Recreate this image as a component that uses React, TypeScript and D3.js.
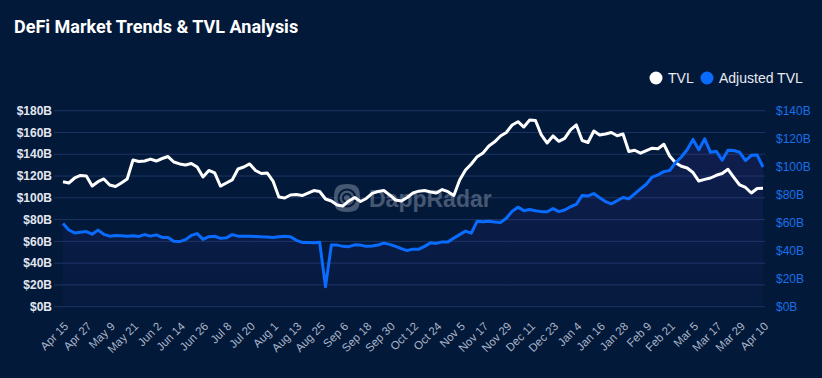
import React from 'react';
import * as d3 from 'd3';

// ---- data (3-day samples starting Apr 15 2024) ----
const startDate = new Date(2024, 3, 15);
const stepDays = 3;

const tvlValues = [
  114.8, 113.6, 118.2, 120.5, 120.0, 110.8, 114.8, 117.3, 111.8, 110.4,
  113.6, 117.3, 134.7, 133.3, 133.8, 135.6, 133.8, 136.1, 137.9, 132.9,
  131.1, 130.1, 131.5, 128.3, 119.1, 125.1, 122.8, 110.8, 113.6, 116.4,
  126.5, 128.3, 131.1, 125.1, 122.3, 122.8, 115.4, 100.7, 99.8, 102.6,
  103.0, 102.1, 104.4, 106.7, 105.8, 98.9, 97.1, 93.4, 92.5, 97.1,
  100.3, 96.6, 99.4, 104.1, 105.8, 106.7, 102.6, 98.0, 97.1, 100.3,
  104.4, 106.1, 106.7, 105.3, 104.4, 107.6, 105.6, 102.1, 116.4, 125.5,
  131.1, 137.8, 141.2, 147.6, 151.4, 156.8, 160.0, 166.9, 169.9, 165.0,
  171.5, 171.0, 157.7, 150.3, 156.8, 151.9, 154.5, 162.3, 166.9, 152.6,
  150.8, 161.4, 157.7, 158.6, 160.0, 157.0, 158.6, 142.5, 143.7, 141.0,
  143.4, 145.6, 145.1, 149.2, 138.4, 132.2, 129.0, 127.4, 123.2, 115.4,
  116.9, 118.2, 120.7, 122.3, 126.2, 118.7, 111.8, 109.5, 104.4, 108.6,
  108.7,
];

const adjustedValues = [
  59.4, 54.8, 52.7, 53.2, 53.7, 51.8, 54.7, 51.7, 50.4, 50.8,
  50.7, 50.4, 50.6, 50.2, 51.5, 50.4, 51.3, 49.5, 49.4, 46.7,
  46.5, 47.9, 50.9, 52.2, 48.1, 50.0, 50.3, 48.8, 49.2, 51.5,
  50.4, 50.4, 50.4, 50.2, 49.9, 49.7, 49.5, 50.0, 50.3, 50.0,
  47.4, 45.9, 45.8, 45.7, 46.0, 14.3, 44.0, 44.0, 43.1, 42.9,
  44.2, 44.0, 43.1, 43.4, 44.1, 45.4, 44.5, 43.1, 41.5, 40.1,
  41.1, 41.1, 43.1, 45.6, 45.2, 46.3, 46.3, 49.0, 51.5, 54.0,
  52.5, 61.1, 60.7, 61.1, 60.5, 60.2, 63.2, 68.2, 71.1, 68.6,
  69.4, 68.6, 67.9, 67.8, 70.1, 67.9, 69.1, 71.4, 73.1, 79.5,
  79.1, 80.8, 77.8, 75.1, 73.5, 75.7, 78.0, 77.1, 80.6, 84.2,
  87.5, 92.6, 94.2, 96.5, 97.3, 102.8, 106.9, 112.1, 119.5, 112.1,
  119.9, 110.3, 111.0, 104.6, 111.7, 111.6, 110.3, 104.4, 108.1, 108.3,
  99.8,
];

const leftTicks = [0, 20, 40, 60, 80, 100, 120, 140, 160, 180];
const rightTicks = [0, 20, 40, 60, 80, 100, 120, 140];
const labelEvery = 4; // every 12 days
const seriesNames = ['TVL', 'Adjusted TVL'];
const seriesColors = ['#ffffff', '#0a6cff'];
const titleText = 'DeFi Market Trends & TVL Analysis';

export default function App() {
  const W = 822;
  const H = 378;
  const left = 63;
  const right = 763;
  const top = 110.7;
  const bottom = 306.7;

  const dates = tvlValues.map((_, i) => d3.timeDay.offset(startDate, i * stepDays));
  const x = d3.scaleTime().domain([dates[0], dates[dates.length - 1]]).range([left, right]);
  const yL = d3.scaleLinear().domain([0, 180]).range([bottom, top]);
  const yR = d3.scaleLinear().domain([0, 140]).range([bottom, top]);
  const fmt = d3.timeFormat('%b %-d');

  const tvlLine = d3
    .line<number>()
    .x((_, i) => x(dates[i]))
    .y((d) => yL(d));
  const adjLine = d3
    .line<number>()
    .x((_, i) => x(dates[i]))
    .y((d) => yR(d));
  const adjArea = d3
    .area<number>()
    .x((_, i) => x(dates[i]))
    .y0(bottom)
    .y1((d) => yR(d));

  const axisFont = "'Liberation Sans', Arial, sans-serif";
  const labelDates = dates.filter((_, i) => i % labelEvery === 0);

  return (
    <svg
      width={W}
      height={H}
      style={{ position: 'absolute', left: 0, top: 0, display: 'block' }}
      fontFamily={axisFont}
    >
      <defs>
        <linearGradient id="adjFill" gradientUnits="userSpaceOnUse" x1="0" y1={top} x2="0" y2={bottom}>
          <stop offset="0%" stopColor="#6a3cd0" stopOpacity={0.15} />
          <stop offset="100%" stopColor="#4a3cc0" stopOpacity={0.04} />
        </linearGradient>
      </defs>
      <rect x={0} y={0} width={W} height={H} fill="#03193a" />

      {/* title */}
      <text x={14} y={33} fill="#ffffff" fontFamily="Roboto, 'Liberation Sans', Arial, sans-serif" fontWeight={700} fontSize={18}>
        {titleText}
      </text>

      {/* legend */}
      <g fontSize={14} fill="#e8ecf2">
        <circle cx={656} cy={78} r={6.5} fill={seriesColors[0]} />
        <text x={668} y={78} dy="0.35em">{seriesNames[0]}</text>
        <circle cx={707} cy={78} r={6.5} fill={seriesColors[1]} />
        <text x={719} y={78} dy="0.35em">{seriesNames[1]}</text>
      </g>

      {/* gridlines */}
      {leftTicks.map((t) => (
        <line key={'g' + t} x1={54} x2={765} y1={yL(t)} y2={yL(t)} stroke="#1d3563" strokeWidth={1} />
      ))}

      {/* left axis labels */}
      {leftTicks.map((t) => (
        <text key={'l' + t} x={52} y={yL(t)} dy="0.35em" textAnchor="end" fill="#e2e7ef" fontSize={12} fontWeight={700}>
          {'$' + t + 'B'}
        </text>
      ))}

      {/* right axis labels */}
      {rightTicks.map((t) => (
        <text key={'r' + t} x={776} y={yR(t)} dy="0.35em" textAnchor="start" fill="#1a6fe6" fontSize={12}>
          {'$' + t + 'B'}
        </text>
      ))}

      {/* x labels */}
      {labelDates.map((d, i) => (
        <text
          key={'x' + i}
          transform={`translate(${x(d) + 6},${327}) rotate(-45)`}
          textAnchor="end"
          fill="#a9b5c8"
          fontSize={11.5}
        >
          {fmt(d)}
        </text>
      ))}

      {/* watermark */}
      <g opacity={0.55}>
        <path
          d="M347,184 C357,184 360,187 360,198 C360,209 357,212 347,212 C337,212 334,209 334,198 C334,187 337,184 347,184 Z"
          fill="#7d8aa0"
        />
        <circle cx={347} cy={198} r={8.5} fill="none" stroke="#03193a" strokeWidth={2} />
        <circle cx={347} cy={198} r={4} fill="none" stroke="#03193a" strokeWidth={2} />
        <text x={369} y={207} fill="#7d8aa0" fontSize={23} fontWeight={700}>DappRadar</text>
      </g>

      {/* series */}
      <path d={adjArea(adjustedValues) || ''} fill="url(#adjFill)" />
      <path d={tvlLine(tvlValues) || ''} fill="none" stroke={seriesColors[0]} strokeWidth={3} strokeLinejoin="round" />
      <path d={adjLine(adjustedValues) || ''} fill="none" stroke={seriesColors[1]} strokeWidth={3} strokeLinejoin="round" />
    </svg>
  );
}
